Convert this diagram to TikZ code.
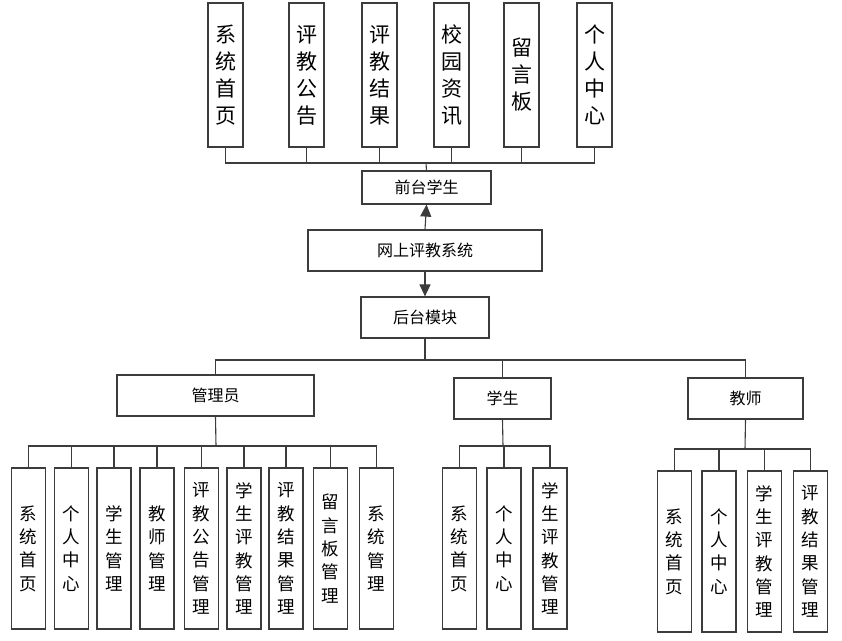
\documentclass[tikz,border=0pt]{standalone}
\usepackage{fontspec}
\newfontfamily\cjk{Noto Sans CJK SC}
\usetikzlibrary{arrows.meta}
\definecolor{edge}{RGB}{60,60,60}
\tikzset{
  box/.style={draw=edge, line width=1.2pt, fill=white, inner sep=0pt, align=center,
    font=\cjk\fontsize{16}{20}\selectfont},
  topbox/.style={box, minimum width=35pt, minimum height=144pt,
    font=\cjk\fontsize{21}{27}\selectfont},
  leafbox/.style={box, minimum width=34pt, minimum height=161pt,
    font=\cjk\fontsize{17.5}{23.3}\selectfont},
  link/.style={draw=edge, line width=1.1pt},
}
\newcommand{\drawlink}{\draw[link]}
\newcommand{\drawarrow}{\draw[link, -{Triangle[width=11pt,length=12pt]}]}

\begin{document}
\begin{tikzpicture}[x=1pt,y=-1pt]
\useasboundingbox (0,0) rectangle (842,640);
% front end
\foreach \i/\x/\lbl in {1/225.5/{系\\统\\首\\页}, 2/306.5/{评\\教\\公\\告}, 3/379.5/{评\\教\\结\\果},
    4/451.5/{校\\园\\资\\讯}, 5/521.5/{留\\言\\板}, 6/594.5/{个\\人\\中\\心}}
  \node[topbox] (t\i) at (\x,75) {\lbl};
\node[box, minimum width=129pt, minimum height=33pt] (front) at (426.5,187.5) {前台学生};
\node[box, minimum width=234pt, minimum height=41pt] (sys) at (425,250.5) {网上评教系统};
\node[box, minimum width=128pt, minimum height=41pt] (back) at (425,317.5) {后台模块};
\coordinate (topbus) at (426,163);
\drawlink (t1.south) |- (topbus) -| (t6.south);
\foreach \i in {2,...,5}
  \drawlink (t\i.south) -- (t\i.south |- topbus);
\drawlink (topbus) -- (front.north);
\drawarrow (sys.north) -- (front.south);
\drawarrow (sys.south) -- (back.north);
% back end roles
\node[box, minimum width=197pt, minimum height=41pt] (admin) at (215.5,395.5) {管理员};
\node[box, minimum width=97pt, minimum height=41pt] (stu) at (502.5,398.5) {学生};
\node[box, minimum width=115pt, minimum height=41pt] (tea) at (745.5,398.5) {教师};
\coordinate (midbus) at (425,360);
\drawlink (back.south) -- (midbus);
\drawlink (admin.north) |- (midbus) -| (tea.north);
\drawlink (stu.north) -- (stu.north |- midbus);
% admin leaves
\foreach \i/\x/\lbl in {1/28.5/{系\\统\\首\\页}, 2/71.5/{个\\人\\中\\心}, 3/114/{学\\生\\管\\理},
    4/157/{教\\师\\管\\理}, 5/201.5/{评\\教\\公\\告\\管\\理}, 6/244/{学\\生\\评\\教\\管\\理},
    7/286/{评\\教\\结\\果\\管\\理}, 8/330.5/{留\\言\\板\\管\\理}, 9/376.5/{系\\统\\管\\理}}
  \node[leafbox] (a\i) at (\x,548.5) {\lbl};
\coordinate (abus) at (216,446);
\drawlink (admin.south) -- (abus);
\drawlink (a1.north) |- (abus) -| (a9.north);
\foreach \i in {2,...,8}
  \drawlink (a\i.north) -- (a\i.north |- abus);
% student leaves
\foreach \i/\x/\lbl in {1/459.5/{系\\统\\首\\页}, 2/504/{个\\人\\中\\心}, 3/550/{学\\生\\评\\教\\管\\理}}
  \node[leafbox] (s\i) at (\x,548.5) {\lbl};
\coordinate (sbus) at (503,446);
\drawlink (stu.south) -- (sbus);
\drawlink (s1.north) |- (sbus) -| (s3.north);
\drawlink (s2.north) -- (s2.north |- sbus);
% teacher leaves
\foreach \i/\x/\lbl in {1/674.5/{系\\统\\首\\页}, 2/719/{个\\人\\中\\心}, 3/764.5/{学\\生\\评\\教\\管\\理},
    4/810.5/{评\\教\\结\\果\\管\\理}}
  \node[leafbox] (e\i) at (\x,551.5) {\lbl};
\coordinate (ebus) at (745,449);
\drawlink (tea.south) -- (ebus);
\drawlink (e1.north) |- (ebus) -| (e4.north);
\foreach \i in {2,3}
  \drawlink (e\i.north) -- (e\i.north |- ebus);
\end{tikzpicture}
\end{document}
